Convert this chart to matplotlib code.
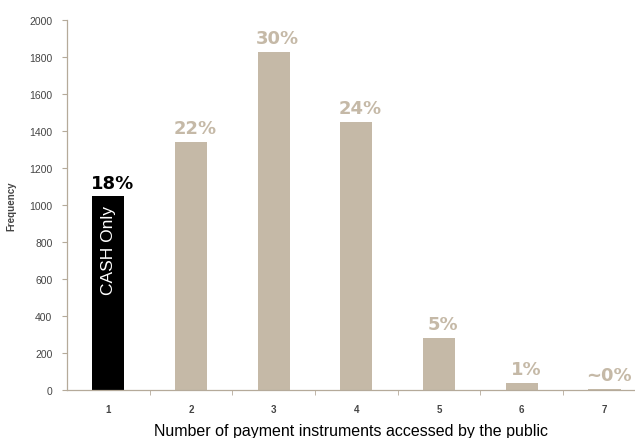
import matplotlib.pyplot as plt
from matplotlib.ticker import MultipleLocator

# data
counts = [1, 2, 3, 4, 5, 6, 7]
freq = [1047, 1340, 1827, 1450, 283, 38, 5]
pct_labels = ["18%", "22%", "30%", "24%", "5%", "1%", "~0%"]

tan = "#c5b9a7"
axis_col = "#b5aa9a"
txt_col = "#444444"

fig = plt.figure(figsize=(6.35, 4.39), dpi=100)
ax = fig.add_axes([0.1055, 0.109, 0.8945, 0.843])

colors = ["black"] + [tan] * (len(counts) - 1)
ax.bar(counts, freq, width=0.39, color=colors)

for i, (x, v, lab) in enumerate(zip(counts, freq, pct_labels)):
    c = "black" if i == 0 else tan
    ax.text(x + 0.05, v + 48, lab, ha="center", va="baseline",
            fontsize=13, fontweight="bold", color=c)

ax.text(counts[0], 762, "CASH Only", rotation=90, color="white",
        ha="center", va="center", fontsize=12.5, family="Liberation Sans")

ax.set_xlim(0.5, 7.37)
ax.set_ylim(0, 2000)
ax.yaxis.set_major_locator(MultipleLocator(200))
ax.set_xticks(counts)
ax.set_xticks([x + 0.5 for x in counts[:-1]], minor=True)
ax.tick_params(axis="x", which="major", length=0, pad=10)
ax.tick_params(axis="x", which="minor", length=3.5, color=axis_col)
ax.tick_params(axis="y", length=3.5, color=axis_col, pad=7)
for t in ax.get_xticklabels():
    t.set_fontfamily("Liberation Sans")
    t.set_fontsize(7)
    t.set_fontweight("bold")
    t.set_color(txt_col)
for t in ax.get_yticklabels():
    t.set_fontfamily("Liberation Sans")
    t.set_fontsize(7.5)
    t.set_color(txt_col)

for s in ["top", "right"]:
    ax.spines[s].set_visible(False)
for s in ["left", "bottom"]:
    ax.spines[s].set_color(axis_col)
    ax.spines[s].set_linewidth(0.9)

ax.set_ylabel("Frequency", fontsize=7, fontweight="bold", color=txt_col,
              family="Liberation Sans", labelpad=9)
ax.set_xlabel("Number of payment instruments accessed by the public",
              fontsize=11.5, family="Liberation Sans")
ax.xaxis.set_label_coords(0.5, -0.088)

fig.savefig("out.png", dpi=100)
